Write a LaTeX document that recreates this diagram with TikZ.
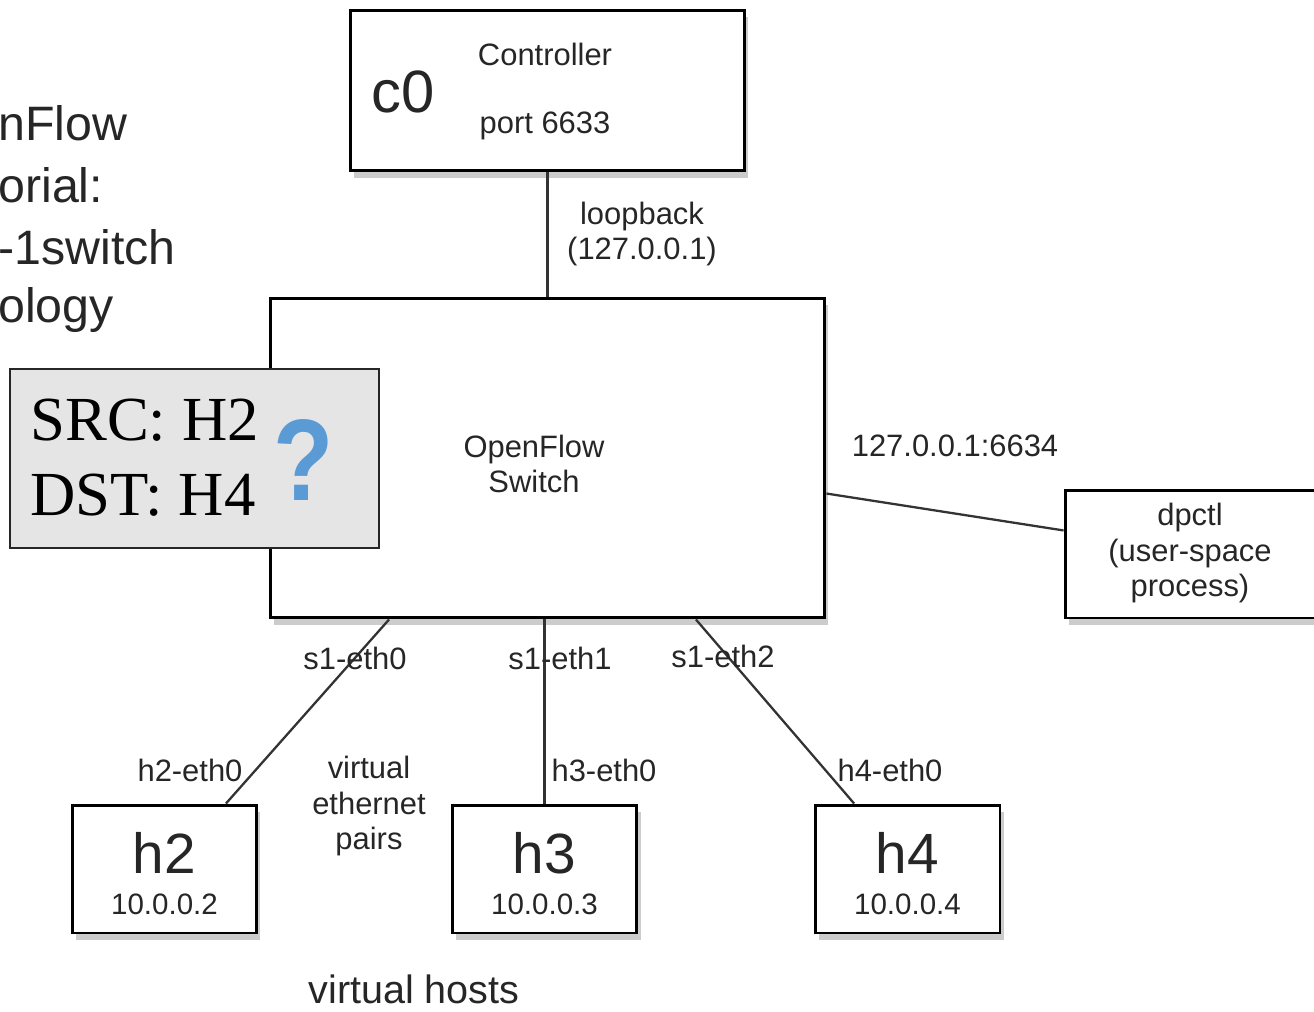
\documentclass[tikz,border=0pt]{standalone}
\usepackage{fontspec}
\setmainfont{Liberation Sans}
\newfontfamily\timesfont{Liberation Serif}
\usetikzlibrary{shadows,calc}
\definecolor{qblue}{RGB}{91,155,213}

\begin{document}
\begin{tikzpicture}[
    x=0.02cm, y=-0.02cm,
    every node/.style={text=black!85, font=\fontsize{17.6}{20.4}\selectfont},
    box/.style={draw=black, line width=1.7pt, fill=white, inner sep=0pt,
      drop shadow={shadow xshift=2pt, shadow yshift=-4pt, opacity=0.4}},
    host/.style={box, minimum width=3.7cm, minimum height=2.56cm},
    link/.style={draw=black!80, line width=1.3pt},
    title/.style={anchor=base west, inner sep=0pt, font=\fontsize{27.5}{32}\selectfont}
    ]
    \clip (0,0) rectangle (1314,1011);

    \path (-2,140) node[title] (t1) {nFlow}
          (-2,202) node[title] (t2) {orial:}
          (-2,264) node[title] (t3) {-1switch}
          (-2,322) node[title] (t4) {ology};

    \node[box, minimum width=7.9cm, minimum height=3.22cm] (c0) at (547.5,90.5) {};
    \node[font=\fontsize{34}{38}\selectfont] (c0name) at (403,92) {c0};
    \node (ctrl) at (545,54) {Controller};
    \node (port) at (545,126) {port 6633};

    \node[box, minimum width=11.1cm, minimum height=6.4cm] (sw) at (547.5,458) {};
    \node[align=center] (swname) at (534,464) {OpenFlow\\Switch};

    \node[box, minimum width=5.06cm, minimum height=2.56cm] (dp) at (1191.5,554) {};
    \node[align=center] (dpname) at (1190,553) {dpctl\\(user-space\\process)};

    \path foreach \n/\x in {2/164.5,3/544.5,4/907.5}
      {(\x,869) node[host] (h\n) {}
       (\x,853) node[font=\fontsize{32.3}{36}\selectfont] (h\n name) {h\n}
       (\x,904) node[font=\fontsize{16.8}{19}\selectfont] (h\n ip) {10.0.0.\n}};

    \draw[link] (c0.south) -- (sw.north);
    \draw[link] ($(sw.north east)!0.61!(sw.south east)$) -- ($(dp.north west)!0.32!(dp.south west)$);
    \draw[link] ($(sw.south west)!0.216!(sw.south east)$) -- ($(h2.north west)!0.827!(h2.north east)$);
    \draw[link] (h3.north |- sw.south) -- (h3.north);
    \draw[link] ($(sw.south west)!0.766!(sw.south east)$) -- ($(h4.north west)!0.216!(h4.north east)$);

    \node[align=center] (loop) at (642,234) {loopback\\(127.0.0.1)};
    \node (swaddr) at (955,446) {127.0.0.1:6634};
    \node (s1e0) at (355,658) {s1-eth0};
    \node (s1e1) at (560,658) {s1-eth1};
    \node (s1e2) at (723,656) {s1-eth2};
    \node (h2e0) at (190,770) {h2-eth0};
    \node (h3e0) at (604,770) {h3-eth0};
    \node (h4e0) at (890,770) {h4-eth0};
    \node[align=center] (veth) at (369,806) {virtual\\ethernet\\pairs};
    \node[inner sep=0pt, font=\fontsize{22.5}{26}\selectfont] (vhosts) at (414,989) {virtual hosts};

    \node[draw=black!85, line width=1pt, fill=black!10, minimum width=7.38cm,
      minimum height=3.58cm, inner sep=0pt] (pkt) at (194.5,458.5) {};
    \path (30,440) node[anchor=base west, inner sep=0pt, text=black,
            font=\timesfont\fontsize{35.7}{40}\selectfont] (src) {SRC: H2}
          (30,515) node[anchor=base west, inner sep=0pt, text=black,
            font=\timesfont\fontsize{35.7}{40}\selectfont] (dst) {DST: H4};
    \node[text=qblue, xscale=0.85, inner sep=0pt,
      font=\bfseries\fontsize{66}{70}\selectfont] (q) at (304,460) {?};
\end{tikzpicture}
\end{document}
